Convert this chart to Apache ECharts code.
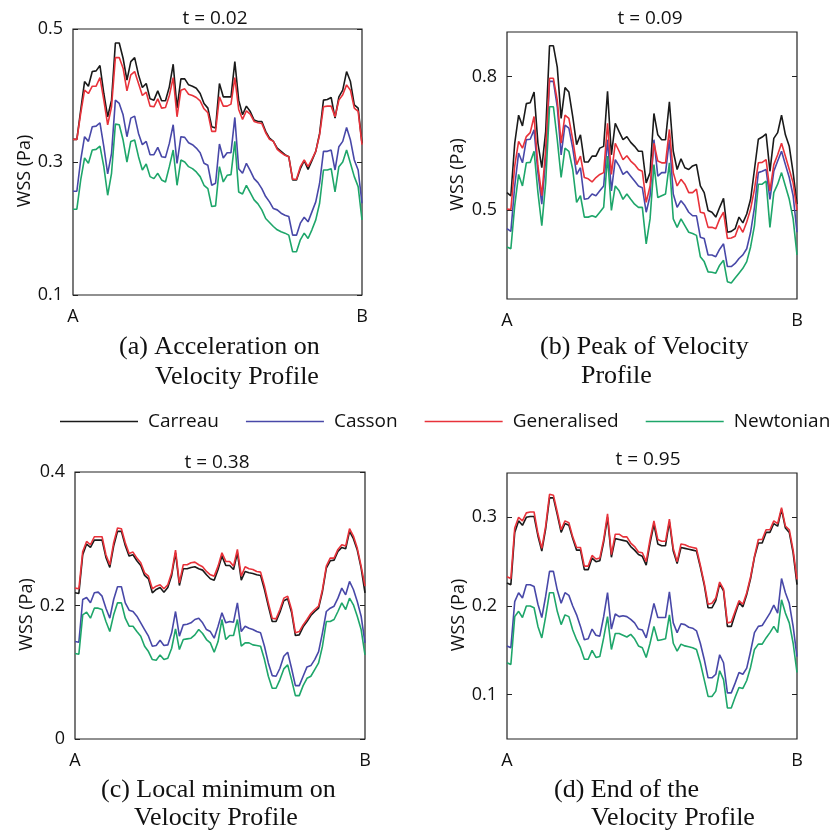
<!DOCTYPE html>
<html><head><meta charset="utf-8">
<script src="https://cdn.jsdelivr.net/npm/echarts@6/dist/echarts.min.js"></script>
<style>html,body{margin:0;padding:0;background:#fff}#c{width:835px;height:836px}</style>
</head><body><div id="c"></div><script>
// ---------- data ----------
const pointCount = 76;                       // sample points along the path A -> B
const endLabels = ['A', 'B'];
const seriesNames = ['Carreau', 'Casson', 'Generalised', 'Newtonian'];
const panelTimes = ['t = 0.02', 't = 0.09', 't = 0.38', 't = 0.95'];
const captionsLine1 = ['(a) Acceleration on', '(b) Peak of Velocity', '(c) Local minimum on', '(d) End of the'];
const captionsLine2 = ['Velocity Profile', 'Profile', 'Velocity Profile', 'Velocity Profile'];
const yLabel = 'WSS (Pa)';

const yRangeA = [0.1, 0.5];  const yTicksA = [0.1, 0.3, 0.5];
const yRangeB = [0.3, 0.9];  const yTicksB = [0.5, 0.8];
const yRangeC = [0, 0.4];    const yTicksC = [0, 0.2, 0.4];
const yRangeD = [0.05, 0.35];const yTicksD = [0.1, 0.2, 0.3];

// (a) t = 0.02
const carreauA = [0.334,0.334,0.378,0.421,0.414,0.436,0.437,0.445,0.403,0.368,
0.393,0.479,0.479,0.456,0.423,0.451,0.457,0.431,0.412,0.418,
0.395,0.393,0.407,0.392,0.392,0.413,0.447,0.381,0.425,0.425,
0.416,0.414,0.411,0.403,0.388,0.381,0.353,0.351,0.418,0.398,
0.398,0.398,0.451,0.393,0.371,0.384,0.376,0.363,0.361,0.361,
0.346,0.336,0.331,0.321,0.316,0.311,0.308,0.273,0.273,0.290,
0.302,0.289,0.302,0.316,0.343,0.393,0.394,0.397,0.366,0.398,
0.408,0.436,0.421,0.386,0.381,0.328];
const cassonA = [0.256,0.256,0.303,0.338,0.331,0.353,0.354,0.359,0.323,0.282,
0.313,0.393,0.388,0.371,0.338,0.366,0.369,0.343,0.326,0.331,
0.311,0.311,0.322,0.308,0.307,0.328,0.356,0.298,0.338,0.337,
0.329,0.326,0.321,0.314,0.298,0.295,0.265,0.268,0.327,0.306,
0.314,0.314,0.367,0.290,0.283,0.298,0.287,0.275,0.269,0.260,
0.248,0.240,0.230,0.228,0.223,0.220,0.218,0.190,0.190,0.208,
0.217,0.210,0.225,0.240,0.268,0.316,0.316,0.318,0.288,0.323,
0.331,0.352,0.333,0.303,0.288,0.238];
const generalisedA = [0.334,0.334,0.373,0.408,0.403,0.414,0.414,0.427,0.393,0.356,
0.383,0.457,0.457,0.441,0.407,0.431,0.436,0.418,0.400,0.405,
0.384,0.383,0.395,0.381,0.382,0.400,0.427,0.368,0.408,0.410,
0.402,0.400,0.397,0.392,0.380,0.374,0.346,0.346,0.398,0.384,
0.384,0.387,0.427,0.379,0.364,0.377,0.372,0.361,0.359,0.358,
0.344,0.334,0.331,0.319,0.314,0.310,0.308,0.274,0.274,0.293,
0.303,0.293,0.304,0.316,0.341,0.383,0.384,0.384,0.368,0.393,
0.401,0.416,0.408,0.381,0.376,0.326];
const newtonianA = [0.229,0.229,0.273,0.306,0.298,0.318,0.319,0.324,0.293,0.250,
0.283,0.357,0.356,0.333,0.300,0.331,0.333,0.308,0.288,0.297,
0.278,0.275,0.283,0.273,0.270,0.293,0.318,0.265,0.303,0.300,
0.293,0.290,0.285,0.278,0.265,0.260,0.233,0.234,0.293,0.270,
0.280,0.281,0.331,0.255,0.252,0.265,0.254,0.243,0.237,0.228,
0.215,0.209,0.203,0.198,0.195,0.193,0.190,0.165,0.165,0.183,
0.193,0.185,0.198,0.213,0.238,0.288,0.288,0.290,0.255,0.293,
0.300,0.318,0.298,0.278,0.263,0.213];

// (b) t = 0.09
const carreauB = [0.539,0.532,0.650,0.713,0.689,0.739,0.741,0.765,0.650,0.595,
0.676,0.869,0.869,0.821,0.706,0.775,0.765,0.710,0.647,0.669,
0.608,0.608,0.621,0.621,0.639,0.643,0.767,0.624,0.695,0.676,
0.658,0.665,0.652,0.643,0.632,0.632,0.561,0.584,0.717,0.669,
0.658,0.658,0.743,0.632,0.591,0.615,0.595,0.591,0.599,0.602,
0.554,0.539,0.499,0.495,0.484,0.506,0.526,0.450,0.452,0.458,
0.484,0.471,0.491,0.524,0.591,0.659,0.664,0.671,0.587,0.661,
0.674,0.713,0.669,0.643,0.584,0.513];
const cassonB = [0.458,0.452,0.554,0.628,0.606,0.658,0.659,0.680,0.584,0.513,
0.613,0.789,0.789,0.732,0.624,0.691,0.684,0.639,0.580,0.595,
0.524,0.526,0.536,0.532,0.543,0.554,0.658,0.543,0.613,0.599,
0.580,0.587,0.576,0.565,0.554,0.550,0.495,0.532,0.658,0.576,
0.584,0.584,0.658,0.536,0.506,0.521,0.510,0.495,0.487,0.487,
0.439,0.436,0.399,0.399,0.395,0.412,0.424,0.373,0.373,0.380,
0.391,0.399,0.413,0.450,0.506,0.584,0.587,0.591,0.524,0.587,
0.610,0.632,0.602,0.573,0.532,0.450];
const generalisedB = [0.502,0.501,0.599,0.654,0.639,0.665,0.674,0.710,0.599,0.532,
0.636,0.796,0.796,0.747,0.650,0.713,0.706,0.658,0.602,0.621,
0.573,0.570,0.563,0.573,0.580,0.584,0.695,0.580,0.650,0.632,
0.613,0.622,0.610,0.602,0.591,0.587,0.517,0.554,0.650,0.610,
0.606,0.606,0.681,0.584,0.554,0.569,0.558,0.539,0.539,0.547,
0.495,0.493,0.461,0.461,0.458,0.480,0.495,0.436,0.437,0.441,
0.465,0.450,0.473,0.502,0.547,0.606,0.607,0.613,0.543,0.602,
0.624,0.650,0.621,0.591,0.561,0.499];
const newtonianB = [0.417,0.413,0.510,0.580,0.554,0.606,0.607,0.632,0.539,0.465,
0.561,0.732,0.732,0.658,0.573,0.639,0.632,0.591,0.517,0.532,
0.484,0.484,0.487,0.484,0.495,0.506,0.621,0.499,0.554,0.543,
0.524,0.536,0.524,0.513,0.506,0.506,0.424,0.480,0.602,0.528,
0.532,0.536,0.606,0.480,0.461,0.480,0.465,0.450,0.447,0.443,
0.395,0.384,0.361,0.360,0.358,0.376,0.387,0.339,0.336,0.347,
0.358,0.369,0.384,0.417,0.465,0.558,0.558,0.565,0.461,0.539,
0.558,0.584,0.554,0.524,0.480,0.399];

// (c) t = 0.38
const carreauC = [0.219,0.218,0.276,0.292,0.287,0.298,0.298,0.298,0.272,0.257,
0.289,0.311,0.311,0.290,0.274,0.276,0.267,0.260,0.245,0.240,
0.219,0.224,0.227,0.220,0.227,0.245,0.279,0.230,0.255,0.255,
0.257,0.258,0.255,0.253,0.246,0.240,0.238,0.254,0.274,0.260,
0.260,0.254,0.279,0.238,0.251,0.249,0.248,0.246,0.245,0.224,
0.199,0.176,0.176,0.190,0.207,0.210,0.190,0.155,0.156,0.168,
0.176,0.185,0.191,0.196,0.221,0.256,0.267,0.268,0.281,0.287,
0.285,0.311,0.300,0.283,0.256,0.219];
const cassonC = [0.146,0.145,0.209,0.212,0.204,0.219,0.220,0.214,0.196,0.181,
0.209,0.228,0.228,0.204,0.193,0.191,0.184,0.174,0.164,0.154,
0.139,0.140,0.148,0.140,0.141,0.159,0.191,0.154,0.171,0.172,
0.174,0.179,0.181,0.174,0.164,0.161,0.151,0.169,0.189,0.174,
0.176,0.175,0.204,0.161,0.169,0.166,0.164,0.161,0.159,0.139,
0.114,0.095,0.094,0.106,0.124,0.130,0.106,0.080,0.080,0.094,
0.108,0.110,0.119,0.131,0.159,0.191,0.196,0.199,0.211,0.226,
0.216,0.236,0.224,0.206,0.184,0.144];
const generalisedC = [0.226,0.225,0.281,0.296,0.291,0.303,0.303,0.303,0.276,0.261,
0.294,0.316,0.315,0.294,0.278,0.280,0.271,0.264,0.249,0.244,
0.225,0.229,0.231,0.225,0.231,0.249,0.283,0.234,0.261,0.261,
0.264,0.265,0.261,0.258,0.251,0.246,0.244,0.259,0.279,0.266,
0.266,0.259,0.284,0.244,0.258,0.255,0.254,0.251,0.250,0.229,
0.204,0.181,0.180,0.194,0.211,0.214,0.194,0.159,0.161,0.171,
0.179,0.188,0.194,0.199,0.224,0.259,0.271,0.271,0.284,0.291,
0.289,0.315,0.304,0.286,0.259,0.229];
const newtonianC = [0.128,0.127,0.186,0.190,0.181,0.196,0.196,0.194,0.176,0.161,
0.186,0.204,0.204,0.181,0.169,0.169,0.161,0.154,0.139,0.131,
0.119,0.118,0.126,0.119,0.121,0.136,0.165,0.134,0.149,0.150,
0.151,0.156,0.164,0.158,0.149,0.144,0.130,0.146,0.179,0.149,
0.155,0.155,0.179,0.139,0.144,0.144,0.141,0.140,0.139,0.119,
0.094,0.076,0.076,0.089,0.105,0.111,0.089,0.065,0.065,0.080,
0.091,0.094,0.104,0.114,0.139,0.176,0.176,0.179,0.191,0.204,
0.194,0.211,0.201,0.184,0.164,0.126];

// (d) t = 0.95
const carreauD = [0.226,0.224,0.283,0.296,0.291,0.300,0.301,0.301,0.279,0.262,
0.287,0.322,0.322,0.303,0.283,0.293,0.291,0.276,0.263,0.263,
0.241,0.241,0.254,0.250,0.251,0.272,0.300,0.255,0.276,0.275,
0.274,0.273,0.267,0.263,0.258,0.256,0.246,0.271,0.292,0.270,
0.268,0.268,0.295,0.262,0.248,0.266,0.265,0.264,0.263,0.262,
0.244,0.224,0.198,0.198,0.206,0.225,0.217,0.177,0.177,0.191,
0.204,0.199,0.213,0.231,0.255,0.271,0.271,0.283,0.283,0.293,
0.290,0.309,0.288,0.283,0.260,0.224];
const cassonD = [0.155,0.153,0.205,0.215,0.209,0.224,0.224,0.222,0.202,0.187,
0.211,0.239,0.239,0.218,0.203,0.215,0.212,0.200,0.190,0.177,
0.162,0.163,0.174,0.167,0.166,0.188,0.215,0.174,0.191,0.188,
0.189,0.188,0.185,0.181,0.174,0.173,0.164,0.183,0.203,0.187,
0.187,0.187,0.216,0.181,0.170,0.180,0.179,0.176,0.175,0.172,
0.158,0.140,0.119,0.119,0.123,0.145,0.136,0.102,0.102,0.113,
0.125,0.123,0.130,0.149,0.170,0.177,0.178,0.185,0.192,0.201,
0.192,0.231,0.215,0.203,0.177,0.143];
const generalisedD = [0.233,0.231,0.288,0.300,0.296,0.305,0.306,0.306,0.282,0.265,
0.290,0.326,0.325,0.306,0.286,0.296,0.294,0.278,0.266,0.266,
0.245,0.245,0.257,0.253,0.254,0.275,0.304,0.258,0.281,0.281,
0.278,0.278,0.271,0.267,0.261,0.260,0.250,0.275,0.296,0.275,
0.273,0.273,0.298,0.265,0.250,0.270,0.269,0.267,0.266,0.265,
0.246,0.226,0.202,0.203,0.209,0.227,0.219,0.181,0.182,0.194,
0.206,0.202,0.215,0.233,0.256,0.275,0.275,0.286,0.286,0.296,
0.293,0.311,0.290,0.286,0.263,0.230];
const newtonianD = [0.136,0.134,0.188,0.194,0.187,0.200,0.200,0.198,0.177,0.164,
0.188,0.215,0.215,0.194,0.179,0.190,0.188,0.173,0.162,0.153,
0.140,0.140,0.150,0.142,0.143,0.164,0.188,0.151,0.169,0.169,
0.167,0.165,0.168,0.163,0.155,0.153,0.142,0.158,0.177,0.161,
0.162,0.163,0.190,0.158,0.149,0.157,0.155,0.154,0.153,0.151,
0.136,0.117,0.098,0.098,0.104,0.127,0.117,0.085,0.085,0.097,
0.108,0.107,0.116,0.131,0.151,0.157,0.157,0.164,0.170,0.177,
0.170,0.207,0.192,0.181,0.158,0.125];

// ---------- chart ----------
const FONT = '"Open Sans", "DejaVu Sans", sans-serif';
const SERIF = '"Liberation Serif", "DejaVu Serif", serif';
const TXT = '#111111';
const colors = {Carreau:'#1a1a1a', Casson:'#4848a8', Generalised:'#e8323a', Newtonian:'#1ea66a'};

const panels = [
  {data:[carreauA, cassonA, generalisedA, newtonianA], range:yRangeA, ticks:yTicksA,
   grid:{left:73, top:29, width:289, height:266}, nameGap:38},
  {data:[carreauB, cassonB, generalisedB, newtonianB], range:yRangeB, ticks:yTicksB,
   grid:{left:507, top:32, width:290, height:267}, nameGap:40},
  {data:[carreauC, cassonC, generalisedC, newtonianC], range:yRangeC, ticks:yTicksC,
   grid:{left:75, top:472, width:290, height:267}, nameGap:36},
  {data:[carreauD, cassonD, generalisedD, newtonianD], range:yRangeD, ticks:yTicksD,
   grid:{left:507, top:473, width:290, height:266}, nameGap:37}
];
const titlePos = [[215, 19], [650, 19], [217, 463], [648, 460]];
const capPos = [[[119, 347], [155, 377]], [[540, 347], [581, 376]],
                [[101, 790], [134, 818]], [[554, 790], [591, 818]]];

const nodes = [];
for (let i = 0; i < pointCount; i++) nodes.push(String(i));

const fmt = v => String(Math.round(v * 100) / 100);

const grid = [], xAxis = [], yAxis = [], series = [], graphic = [];
panels.forEach((p, k) => {
  grid.push(Object.assign({show:true, borderColor:'#222', borderWidth:1.2, backgroundColor:'transparent',
    containLabel:false, outerBoundsMode:'none'}, p.grid));
  xAxis.push({gridIndex:k, type:'category', data:nodes, boundaryGap:false,
    axisLine:{show:false}, axisTick:{show:false}, splitLine:{show:false},
    axisLabel:{interval:(i) => i === 0 || i === pointCount - 1,
      formatter:(v, i) => (i === 0 ? endLabels[0] : endLabels[1]),
      margin:13, fontFamily:FONT, fontSize:18, color:TXT}});
  const tickStyle = {show:true, inside:true, length:5, customValues:p.ticks, lineStyle:{color:'#222', width:1}};
  yAxis.push({gridIndex:k, type:'value', position:'left', min:p.range[0], max:p.range[1],
    name:yLabel, nameLocation:'middle', nameGap:p.nameGap,
    nameTextStyle:{fontFamily:FONT, fontSize:18, color:TXT, padding:[0, 18, 0, 0]},
    axisLine:{show:false}, splitLine:{show:false}, axisTick:tickStyle,
    axisLabel:{customValues:p.ticks, margin:10, fontFamily:FONT, fontSize:18, color:TXT, formatter:fmt}});
  yAxis.push({gridIndex:k, type:'value', position:'right', min:p.range[0], max:p.range[1],
    axisLine:{show:false}, splitLine:{show:false}, axisTick:tickStyle,
    axisLabel:{show:false, customValues:p.ticks}});
  seriesNames.forEach((name, s) => {
    series.push({name, type:'line', xAxisIndex:k, yAxisIndex:2 * k, data:p.data[s],
      symbol:'none', showSymbol:false, smooth:false, z:2 + s,
      lineStyle:{color:colors[name], width:1.6}, itemStyle:{color:colors[name]},
      emphasis:{disabled:true}});
  });
  graphic.push({type:'text', x:titlePos[k][0], y:titlePos[k][1], silent:true,
    style:{text:panelTimes[k], font:'19px ' + FONT, fill:TXT, textAlign:'center', textVerticalAlign:'middle'}});
  graphic.push({type:'text', x:capPos[k][0][0], y:capPos[k][0][1], silent:true,
    style:{text:captionsLine1[k], font:'26px ' + SERIF, fill:TXT, textAlign:'left', textVerticalAlign:'middle'}});
  graphic.push({type:'text', x:capPos[k][1][0], y:capPos[k][1][1], silent:true,
    style:{text:captionsLine2[k], font:'26px ' + SERIF, fill:TXT, textAlign:'left', textVerticalAlign:'middle'}});
});

const chart = echarts.init(document.getElementById('c'), null, {renderer:'canvas'});
chart.setOption({
  animation:false,
  backgroundColor:'#ffffff',
  color:seriesNames.map(n => colors[n]),
  legend:{data:seriesNames, left:60, top:412, padding:0, itemGap:27, itemWidth:78, itemHeight:14,
    icon:'path://M0,0 L78,0 L78,1.5 L0,1.5 Z',
    textStyle:{fontFamily:FONT, fontSize:19, color:TXT, padding:[0, 0, 0, 5]}, selectedMode:false},
  grid, xAxis, yAxis, series, graphic
});
</script></body></html>
